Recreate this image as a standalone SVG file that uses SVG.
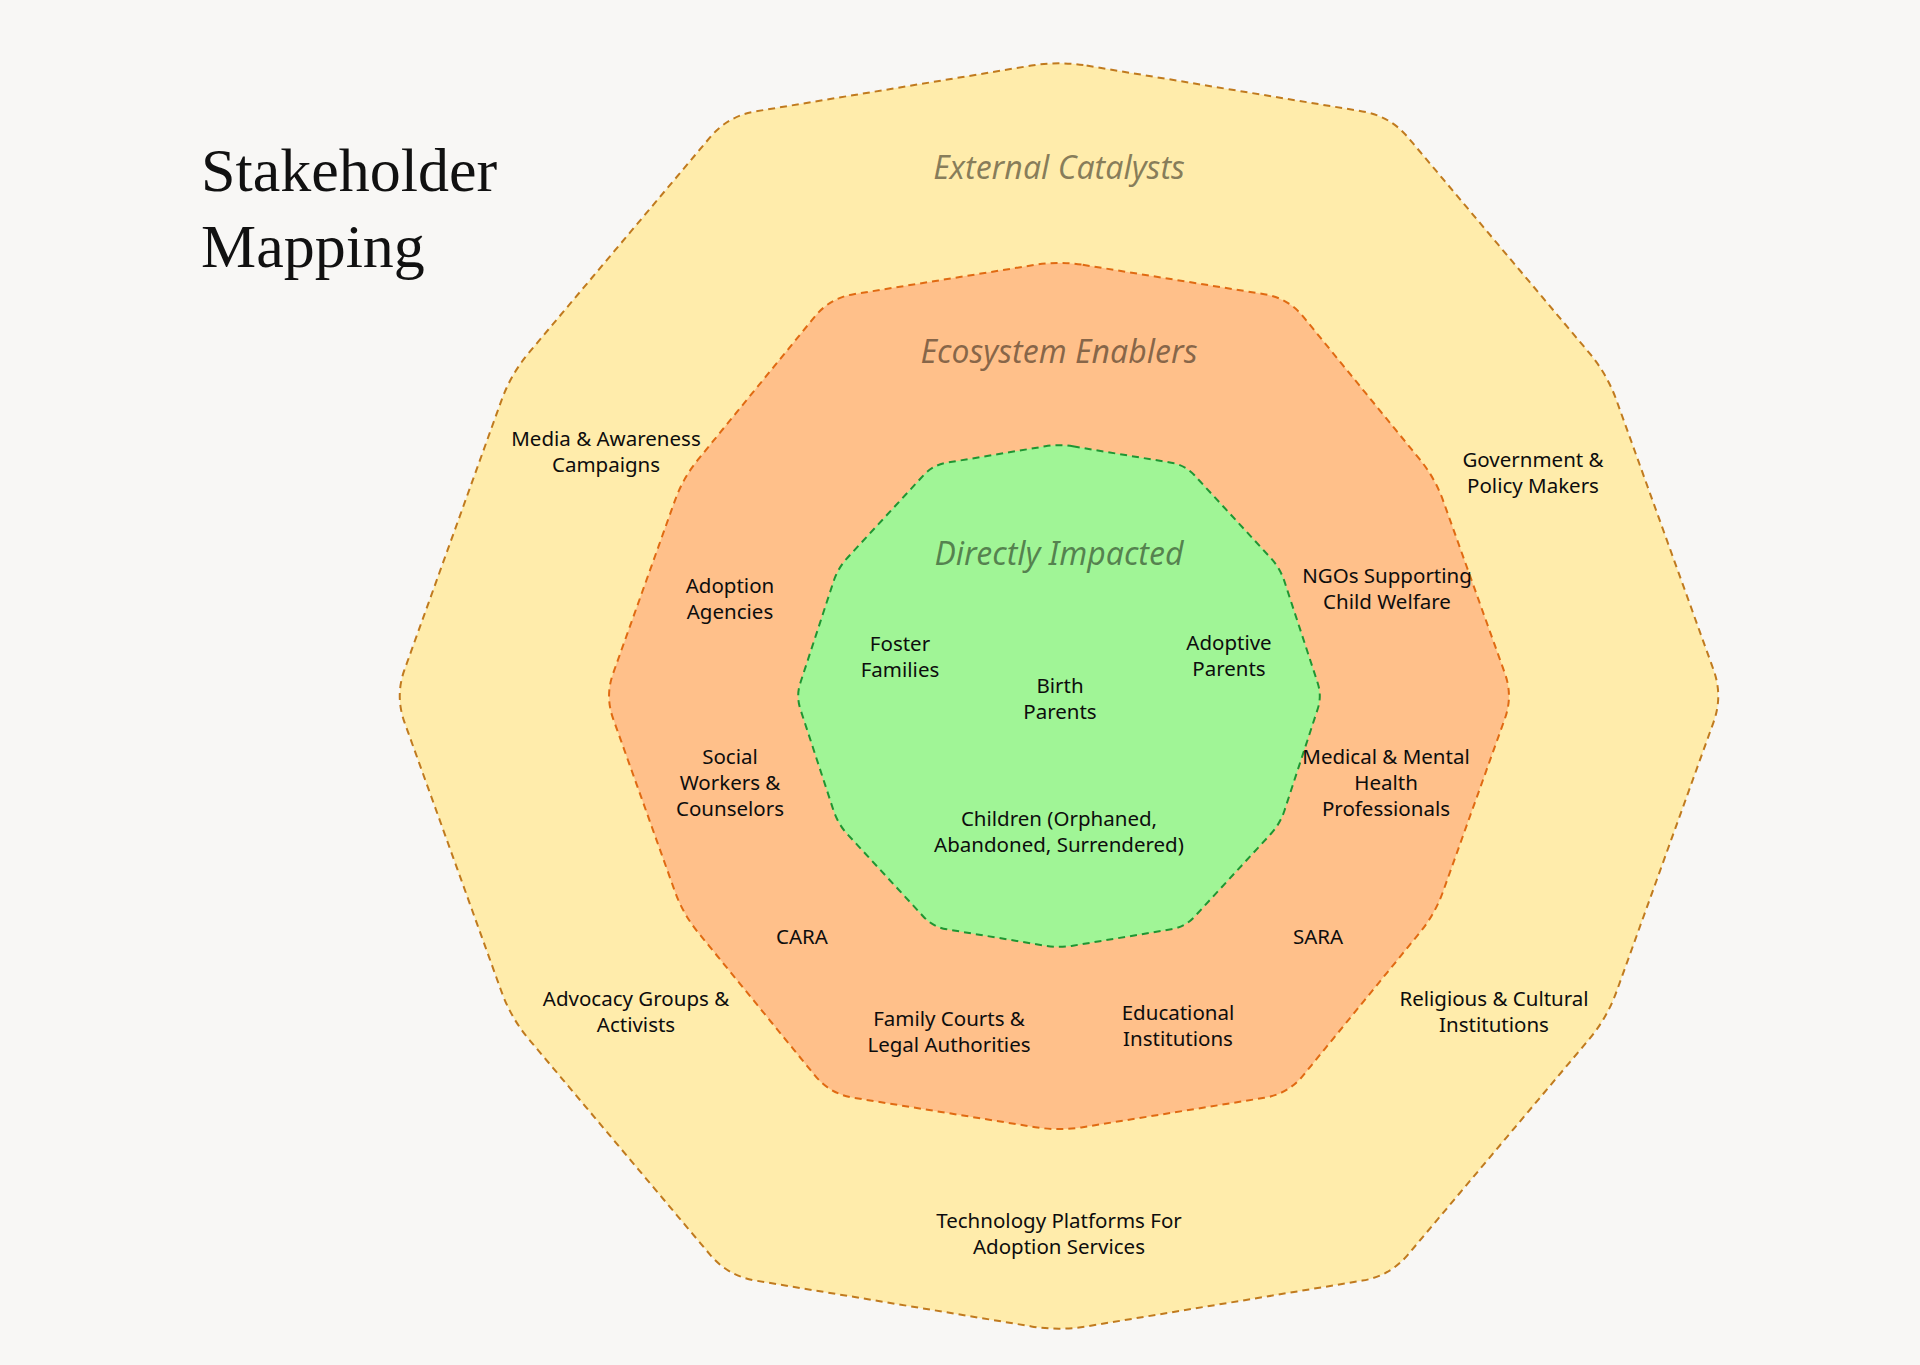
<svg xmlns="http://www.w3.org/2000/svg" width="1920" height="1365" viewBox="0 0 1920 1365">
<style>
.ring{stroke-width:2;stroke-dasharray:7 5;stroke-linejoin:round}
.outer{fill:#FFECAB;stroke:#C07A1E}
.mid{fill:#FFC08A;stroke:#E06A12}
.inner{fill:#A0F596;stroke:#1E9632}
.lbl{font-family:"Noto Sans","Open Sans",sans-serif;font-size:20.5px;fill:#0d0d0d;text-anchor:middle}
.hdr{font-family:"Noto Sans","Open Sans",sans-serif;font-size:32px;font-style:italic;fill:#000;fill-opacity:0.47;text-anchor:middle}
.title{font-family:"Liberation Serif","Times New Roman",serif;font-size:62px;fill:#111}
</style>
<rect width="1920" height="1365" fill="#F8F7F5"/>
<g id="title"><text class="title" x="201" y="191">Stakeholder</text><text class="title" x="201" y="267">Mapping</text></g>
<g id="ring-external">
<path class="ring outer" d="M 1086.6,65.6 L 1362.4,111.4 Q 1390,116 1408,137.4 L 1589,352.6 Q 1607,374 1616.5,400.3 L 1713.5,669.7 Q 1723,696 1713.5,722.3 L 1616.5,991.7 Q 1607,1018 1589,1039.4 L 1408,1254.6 Q 1390,1276 1362.4,1280.6 L 1086.6,1326.4 Q 1059,1331 1031.4,1326.4 L 755.6,1280.6 Q 728,1276 710,1254.6 L 529,1039.4 Q 511,1018 501.5,991.7 L 404.5,722.3 Q 395,696 404.5,669.7 L 501.5,400.3 Q 511,374 529,352.6 L 710,137.4 Q 728,116 755.6,111.4 L 1031.4,65.6 Q 1059,61 1086.6,65.6 Z"/>
<text class="hdr" x="1059" y="179">External Catalysts</text>
</g>
<g id="ring-enablers">
<path class="ring mid" d="M 1082.7,264.8 L 1264.3,294.2 Q 1288,298 1303.2,316.6 L 1419.8,459.4 Q 1435,478 1443.1,500.6 L 1504.9,673.4 Q 1513,696 1504.9,718.6 L 1443.1,891.4 Q 1435,914 1419.8,932.6 L 1303.2,1075.4 Q 1288,1094 1264.3,1097.8 L 1082.7,1127.2 Q 1059,1131 1035.3,1127.2 L 853.7,1097.8 Q 830,1094 814.8,1075.4 L 698.2,932.6 Q 683,914 674.9,891.4 L 613.1,718.6 Q 605,696 613.1,673.4 L 674.9,500.6 Q 683,478 698.2,459.4 L 814.8,316.6 Q 830,298 853.7,294.2 L 1035.3,264.8 Q 1059,261 1082.7,264.8 Z"/>
<text class="hdr" x="1059" y="363">Ecosystem Enablers</text>
</g>
<g id="ring-direct">
<path class="ring inner" d="M 1072.8,446.3 L 1171.2,462.7 Q 1185,465 1194.5,475.3 L 1270.5,557.7 Q 1280,568 1284.4,581.3 L 1317.6,682.7 Q 1322,696 1317.6,709.3 L 1284.4,810.7 Q 1280,824 1270.5,834.3 L 1194.5,916.7 Q 1185,927 1171.2,929.3 L 1072.8,945.7 Q 1059,948 1045.2,945.7 L 946.8,929.3 Q 933,927 923.5,916.7 L 847.5,834.3 Q 838,824 833.6,810.7 L 800.4,709.3 Q 796,696 800.4,682.7 L 833.6,581.3 Q 838,568 847.5,557.7 L 923.5,475.3 Q 933,465 946.8,462.7 L 1045.2,446.3 Q 1059,444 1072.8,446.3 Z"/>
<text class="hdr" x="1059" y="565">Directly Impacted</text>
</g>
<g id="connectors"></g>
<g id="n-media"><text class="lbl" x="606" y="446"><tspan x="606">Media &amp; Awareness</tspan><tspan x="606" dy="26">Campaigns</tspan></text></g>
<g id="n-government"><text class="lbl" x="1533" y="467"><tspan x="1533">Government &amp;</tspan><tspan x="1533" dy="26">Policy Makers</tspan></text></g>
<g id="n-ngos"><text class="lbl" x="1387" y="583"><tspan x="1387">NGOs Supporting</tspan><tspan x="1387" dy="26">Child Welfare</tspan></text></g>
<g id="n-agencies"><text class="lbl" x="730" y="593"><tspan x="730">Adoption</tspan><tspan x="730" dy="26">Agencies</tspan></text></g>
<g id="n-foster"><text class="lbl" x="900" y="651"><tspan x="900">Foster</tspan><tspan x="900" dy="26">Families</tspan></text></g>
<g id="n-birth"><text class="lbl" x="1060" y="693"><tspan x="1060">Birth</tspan><tspan x="1060" dy="26">Parents</tspan></text></g>
<g id="n-adoptive"><text class="lbl" x="1229" y="650"><tspan x="1229">Adoptive</tspan><tspan x="1229" dy="26">Parents</tspan></text></g>
<g id="n-social"><text class="lbl" x="730" y="764"><tspan x="730">Social</tspan><tspan x="730" dy="26">Workers &amp;</tspan><tspan x="730" dy="26">Counselors</tspan></text></g>
<g id="n-medical"><text class="lbl" x="1386" y="764"><tspan x="1386">Medical &amp; Mental</tspan><tspan x="1386" dy="26">Health</tspan><tspan x="1386" dy="26">Professionals</tspan></text></g>
<g id="n-children"><text class="lbl" x="1059" y="826"><tspan x="1059">Children (Orphaned,</tspan><tspan x="1059" dy="26">Abandoned, Surrendered)</tspan></text></g>
<g id="n-cara"><text class="lbl" x="802" y="944">CARA</text></g>
<g id="n-sara"><text class="lbl" x="1318" y="944">SARA</text></g>
<g id="n-advocacy"><text class="lbl" x="636" y="1006"><tspan x="636">Advocacy Groups &amp;</tspan><tspan x="636" dy="26">Activists</tspan></text></g>
<g id="n-courts"><text class="lbl" x="949" y="1026"><tspan x="949">Family Courts &amp;</tspan><tspan x="949" dy="26">Legal Authorities</tspan></text></g>
<g id="n-education"><text class="lbl" x="1178" y="1020"><tspan x="1178">Educational</tspan><tspan x="1178" dy="26">Institutions</tspan></text></g>
<g id="n-religious"><text class="lbl" x="1494" y="1006"><tspan x="1494">Religious &amp; Cultural</tspan><tspan x="1494" dy="26">Institutions</tspan></text></g>
<g id="n-tech"><text class="lbl" x="1059" y="1228"><tspan x="1059">Technology Platforms For</tspan><tspan x="1059" dy="26">Adoption Services</tspan></text></g>
</svg>
